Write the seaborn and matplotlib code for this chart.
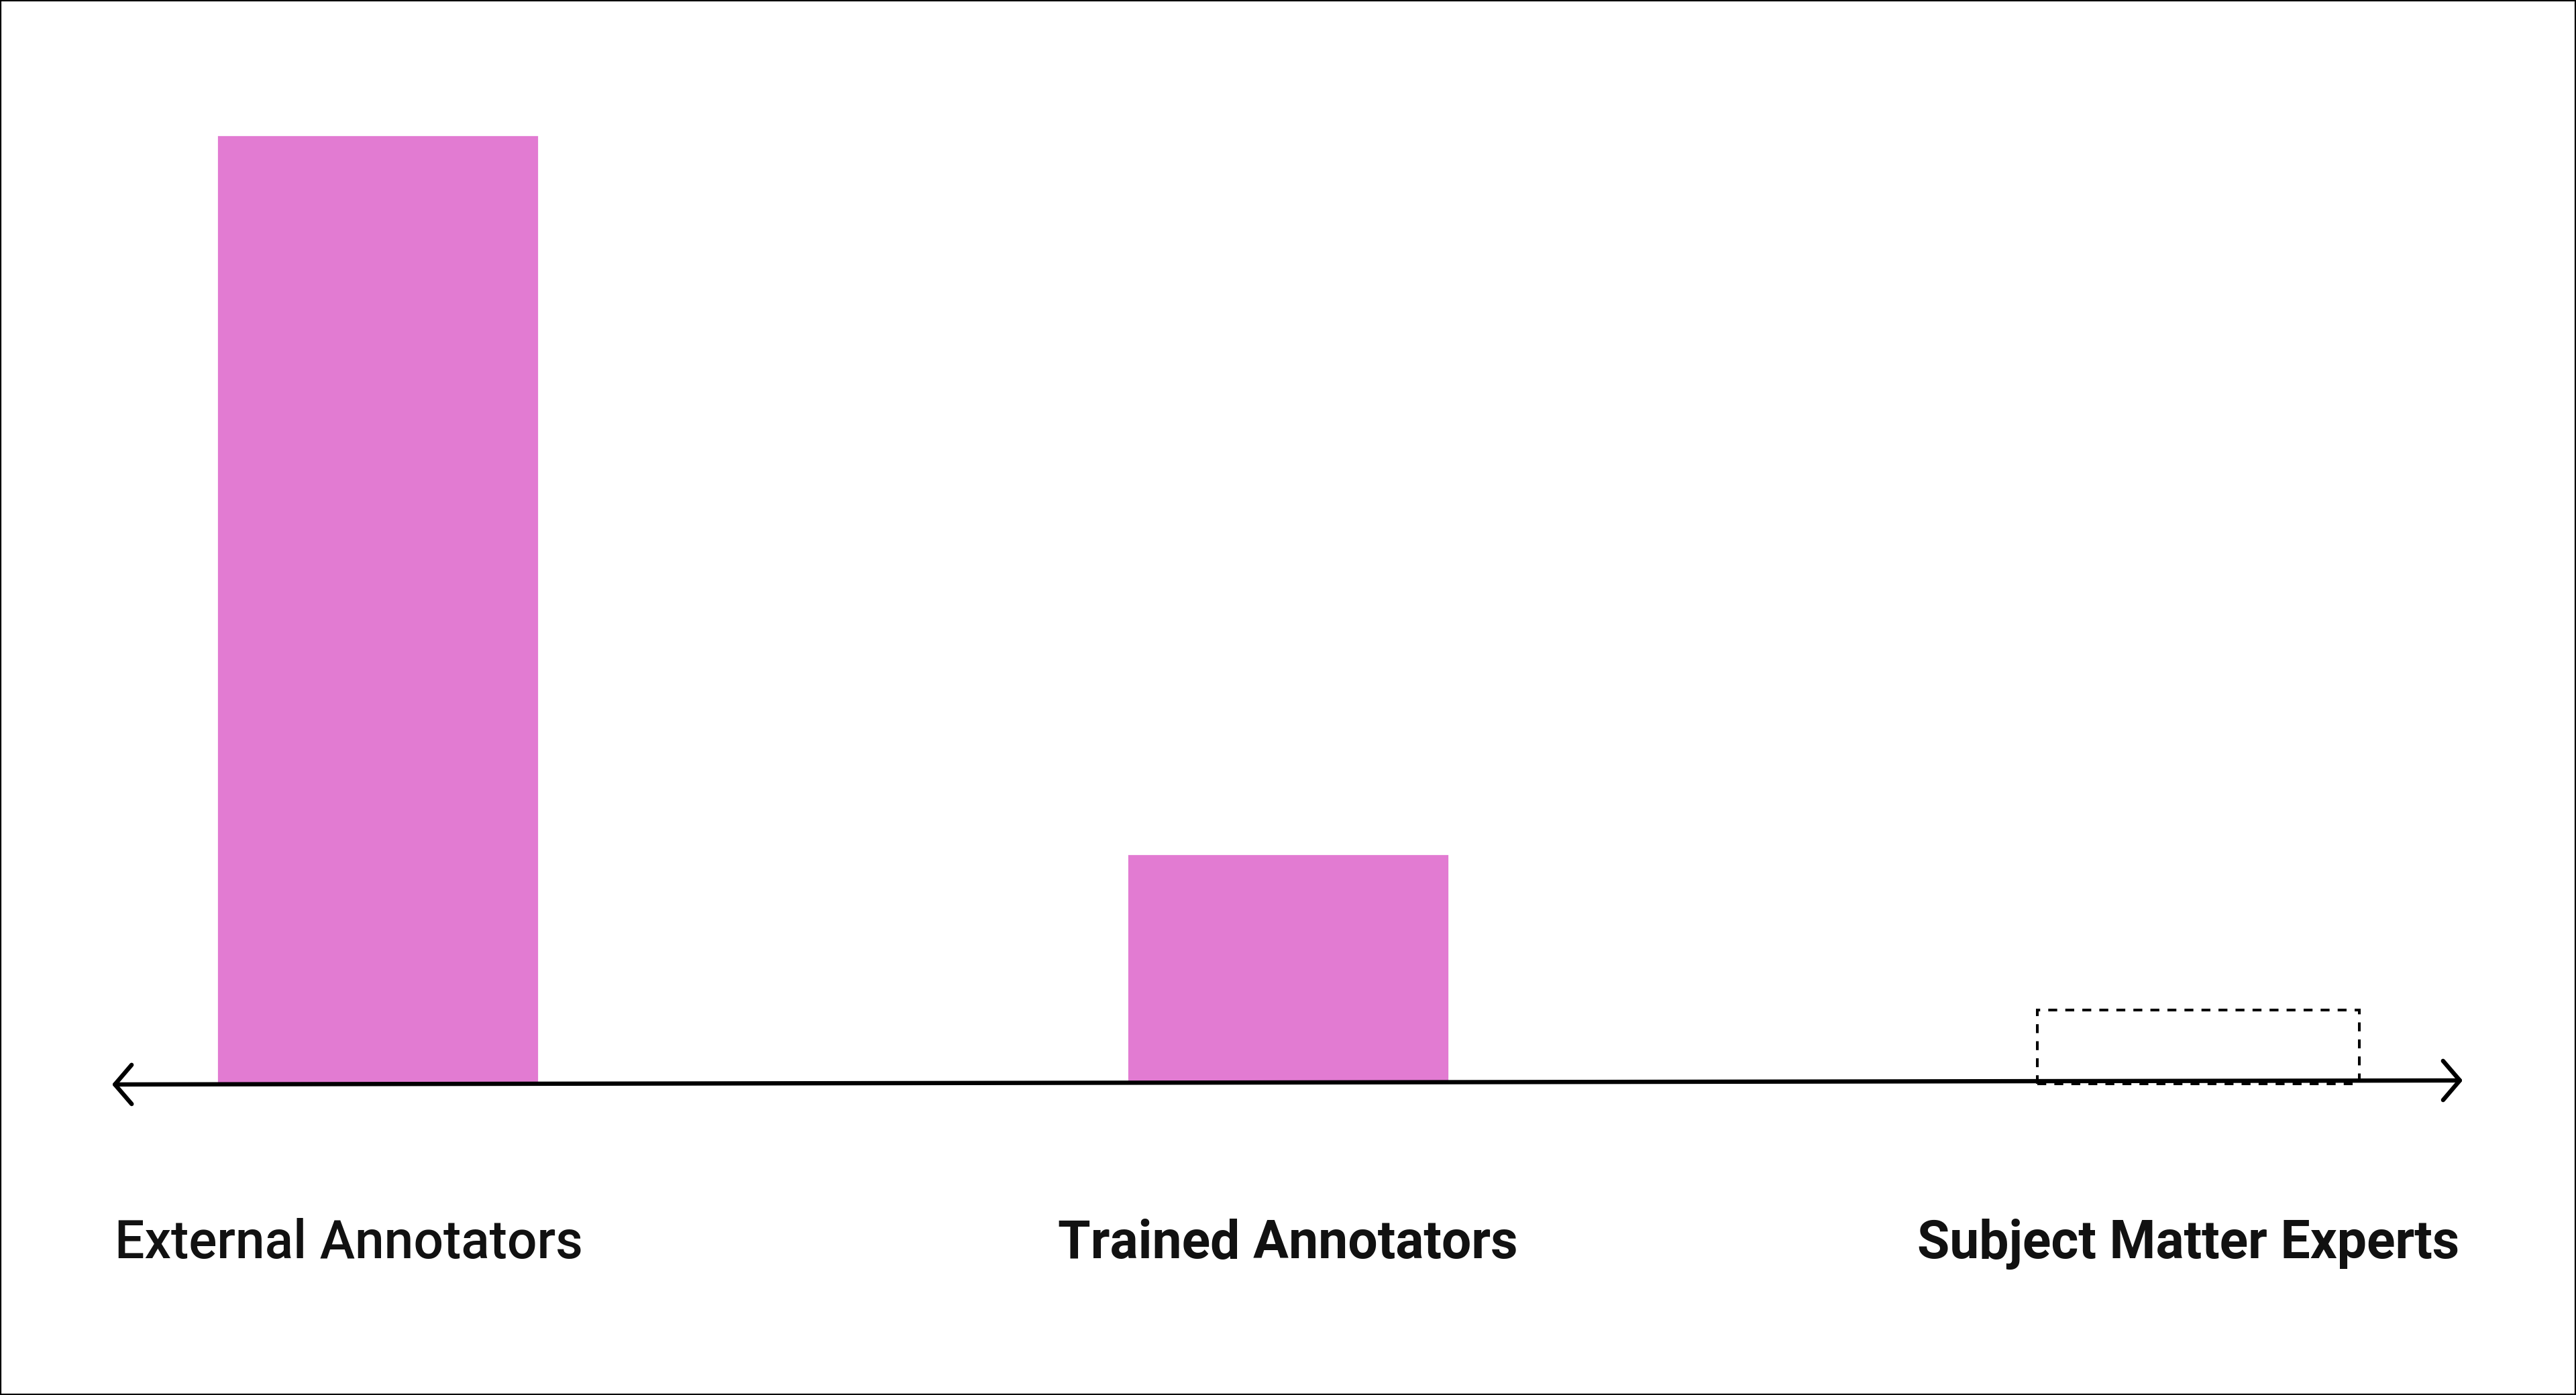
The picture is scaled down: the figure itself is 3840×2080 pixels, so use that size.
import matplotlib

matplotlib.use('Agg')
import matplotlib.pyplot as plt
import seaborn as sns
from matplotlib.patches import Rectangle

# data
categories = ['External Annotators', 'Trained Annotators', 'Subject Matter Experts']
values = [100, 24.2, 7.8]
label_weights = ['medium', 'bold', 'bold']

pink = '#E27BD2'

sns.set_theme(style='white')
plt.rcParams['font.family'] = ['Roboto', 'DejaVu Sans']

fig = plt.figure(figsize=(19.2, 10.4), dpi=200)
ax = fig.add_axes([0, 0, 1, 1])

sns.barplot(x=categories, y=values, color=pink, saturation=1, width=0.354, ax=ax)

# last category is only a dashed outline
last = ax.patches[2]
last.set_facecolor('none')
last.set_edgecolor('black')
last.set_linewidth(1.45)
last.set_linestyle((0, (3.3, 3.0)))

ax.set_xlim(-0.415, 2.415)
ax.set_ylim(-32.8, 114.2)
ax.axis('off')

# double-headed baseline arrow
ax.annotate('', xy=(0.0435, 0.2226), xytext=(0.956, 0.2255),
            xycoords='axes fraction', textcoords='axes fraction',
            arrowprops=dict(arrowstyle='<->,head_length=9,head_width=10.5',
                            mutation_scale=1, lw=2.3, color='black',
                            shrinkA=0, shrinkB=0, capstyle='round', joinstyle='round'),
            zorder=5)

# category labels under the baseline
label_pos = [(0.0445, 'left'), (0.5, 'center'), (0.9547, 'right')]
for cat, w, (xp, ha) in zip(categories, label_weights, label_pos):
    ax.text(xp, 0.098, cat, transform=ax.transAxes, ha=ha, va='baseline',
            fontsize=28.3, fontweight=w, color='#111111')

# outer frame
fig.patches.append(Rectangle((0, 0), 1, 1, transform=fig.transFigure,
                             fill=False, edgecolor='black', lw=1.5))

plt.savefig('out.png', dpi=200)
plt.close(fig)
